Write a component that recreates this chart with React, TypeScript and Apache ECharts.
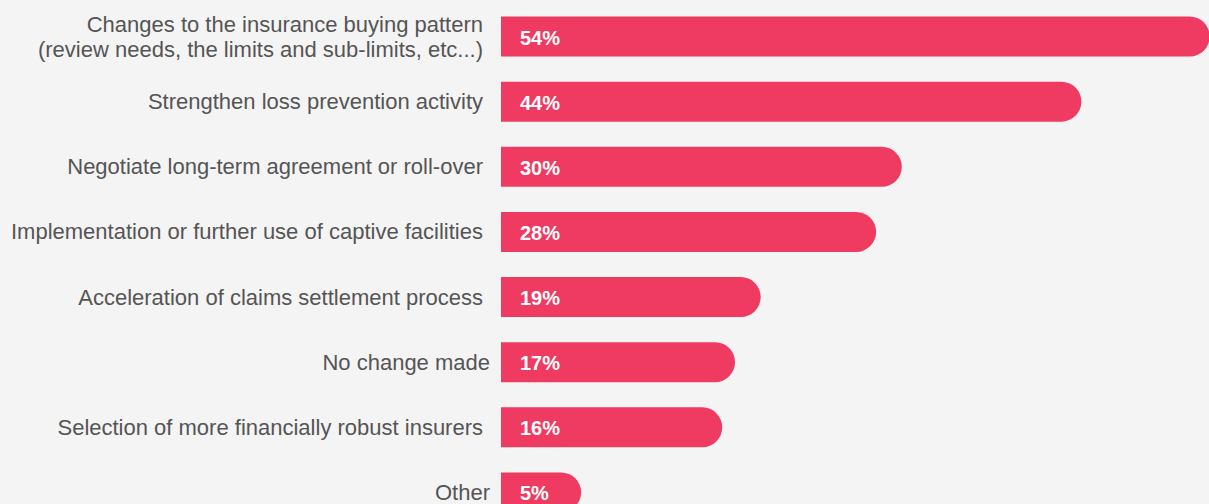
import React, { useEffect, useRef } from "react";
import * as echarts from "echarts";

const categories: string[] = [
  "Changes to the insurance buying pattern\n(review needs, the limits and sub-limits, etc...)",
  "Strengthen loss prevention activity",
  "Negotiate long-term agreement or roll-over",
  "Implementation or further use of captive facilities",
  "Acceleration of claims settlement process",
  "No change made",
  "Selection of more financially robust insurers",
  "Other",
];
const values: number[] = [54, 44, 30, 28, 19, 17, 16, 5];
const shortLabels: string[] = ["No change made", "Other"];

const BAR_COLOR = "#EF3A61";
const TEXT_COLOR = "#555555";
const FONT = "'Liberation Sans', Arial, Helvetica, sans-serif";

export default function App() {
  const ref = useRef<HTMLDivElement>(null);
  useEffect(() => {
    if (!ref.current) return;
    const chart = echarts.init(ref.current, undefined, { renderer: "svg" });
    chart.setOption({
      animation: false,
      backgroundColor: "#F4F4F4",
      grid: { left: 501, right: 0, top: 3.95, bottom: 0, containLabel: false },
      xAxis: {
        type: "value",
        min: 0,
        max: 55.2,
        show: false,
      },
      yAxis: {
        type: "category",
        inverse: true,
        data: categories,
        axisLine: { show: false },
        axisTick: { show: false },
        splitLine: { show: false },
        axisLabel: {
          margin: 11,
          fontFamily: FONT,
          fontSize: 22,
          color: TEXT_COLOR,
          lineHeight: 25,
          formatter: (v: string) =>
            shortLabels.includes(v)
              ? `{b|${v}}`
              : v
                  .split("\n")
                  .map((l) => `{a|${l}}`)
                  .join("\n"),
          rich: {
            a: {
              fontFamily: FONT,
              fontSize: 22,
              color: TEXT_COLOR,
              lineHeight: 25,
              padding: [0, 7, 0, 0],
            },
            b: {
              fontFamily: FONT,
              fontSize: 22,
              color: TEXT_COLOR,
              lineHeight: 22,
            },
          },
        },
      },
      series: [
        {
          type: "custom",
          data: values.map((v, i) => [v, i]),
          encode: { x: 0, y: 1 },
          renderItem: (params: any, api: any) => {
            const v = api.value(0);
            const i = api.value(1);
            const start = api.coord([0, i]);
            const end = api.coord([v, i]);
            const h = 40;
            const cap = 16;
            return {
              type: "group",
              children: [
                {
                  type: "rect",
                  shape: {
                    x: start[0],
                    y: start[1] - h / 2,
                    width: end[0] - start[0] + cap,
                    height: h,
                    r: [0, 20, 20, 0],
                  },
                  style: { fill: BAR_COLOR },
                },
                {
                  type: "text",
                  style: {
                    text: `${v}%`,
                    x: start[0] + 19,
                    y: start[1] + 1,
                    verticalAlign: "middle",
                    align: "left",
                    fill: "#FFFFFF",
                    font: `bold 20px ${FONT}`,
                  },
                },
              ],
            };
          },
        },
      ],
    });
    return () => chart.dispose();
  }, []);
  return (
    <div
      ref={ref}
      style={{ position: "fixed", left: 0, top: 0, width: 1209, height: 524.75 }}
    />
  );
}
